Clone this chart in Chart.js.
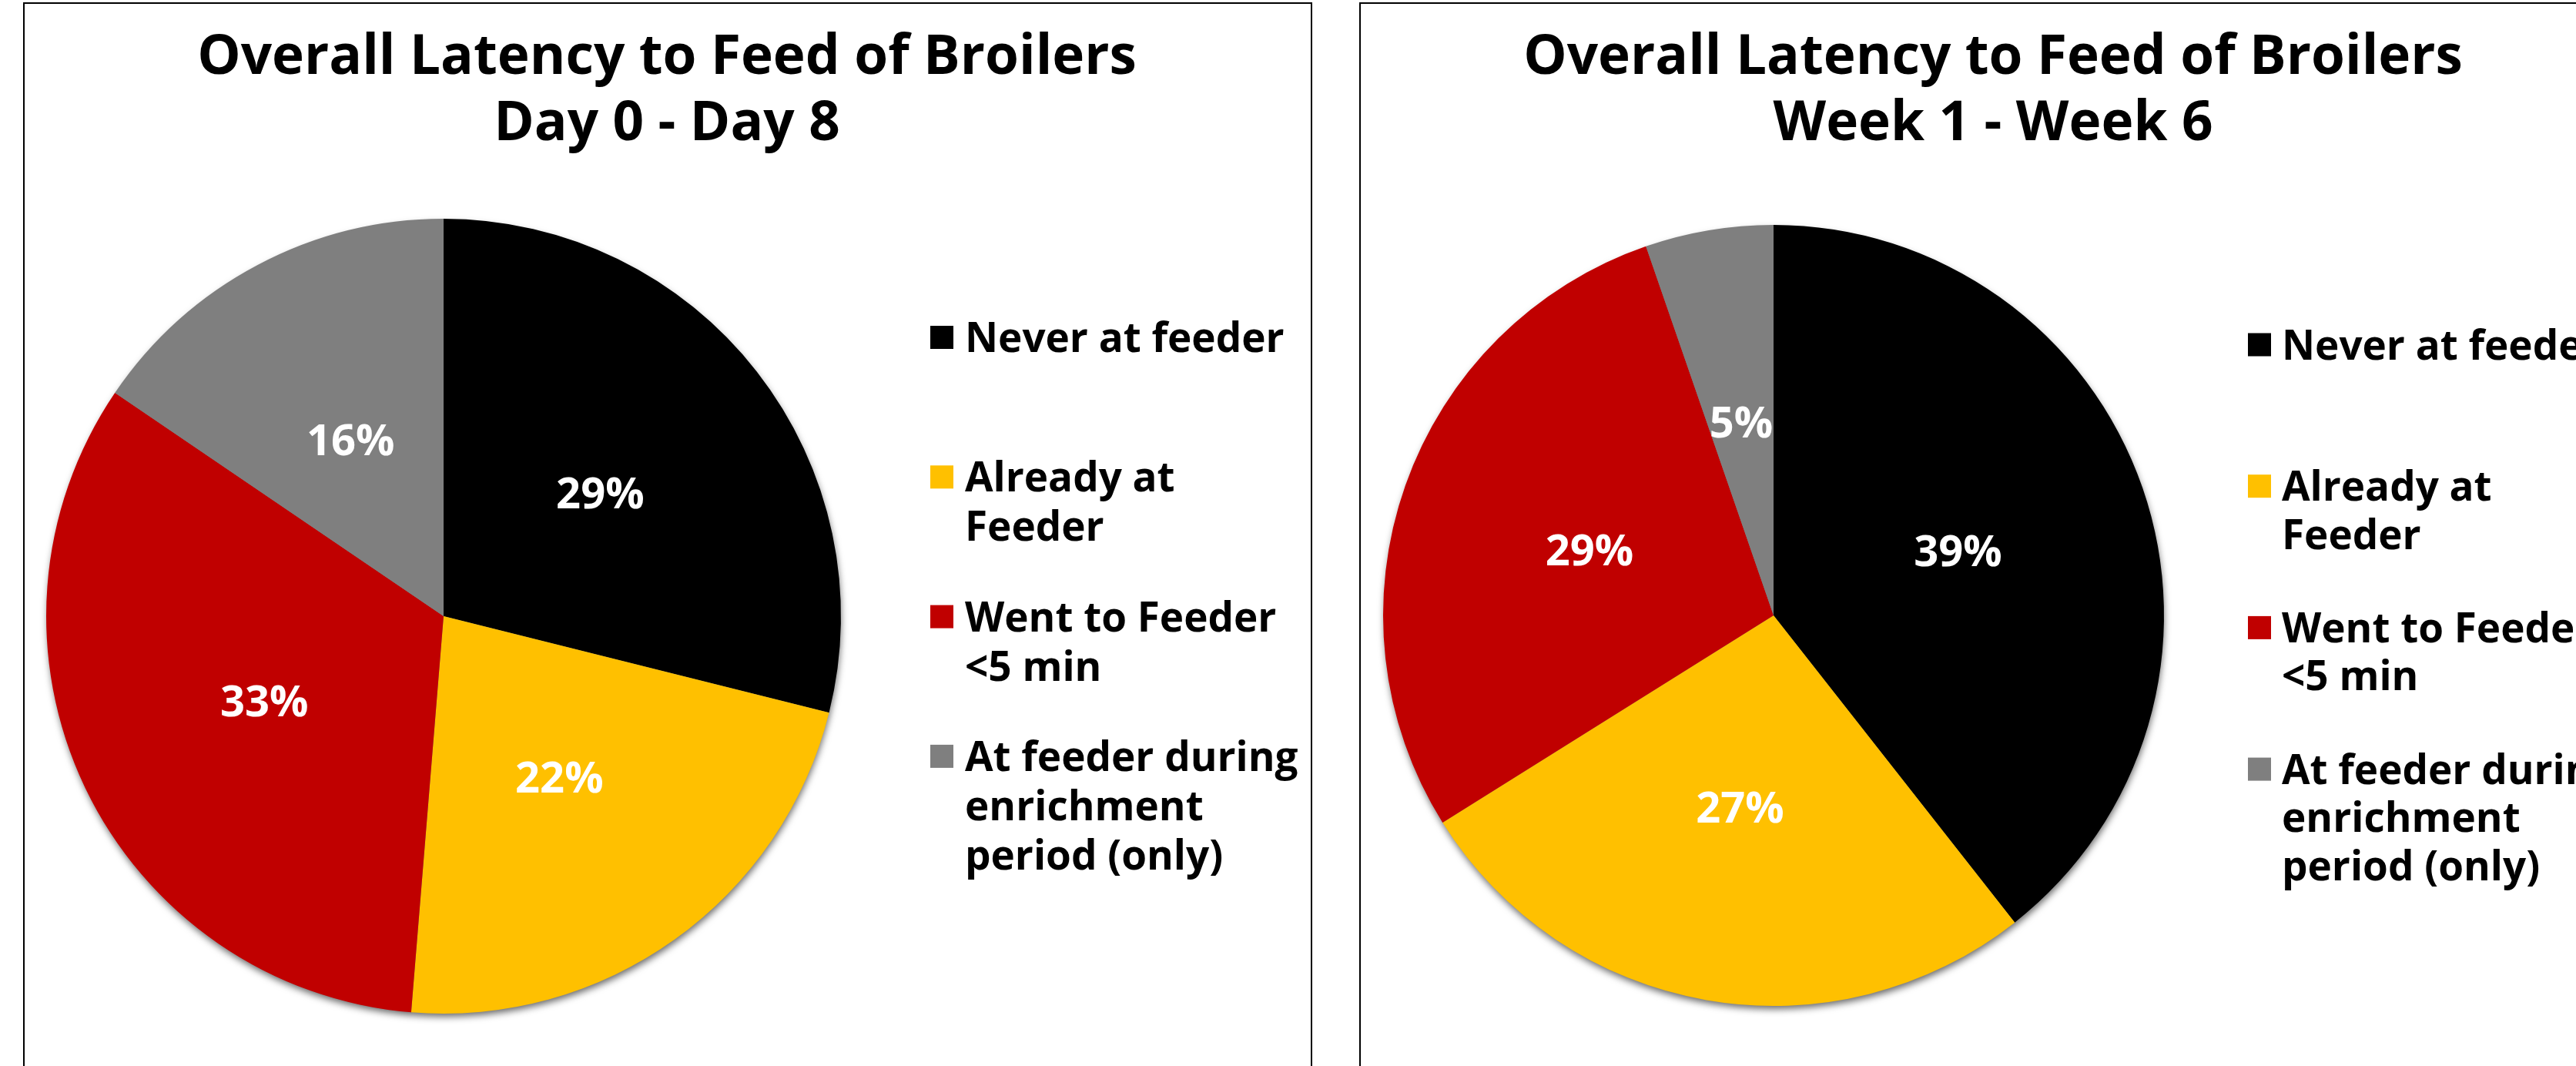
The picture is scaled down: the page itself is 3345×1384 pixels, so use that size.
<!DOCTYPE html>
<html>
<head>
<meta charset="utf-8">
<script src="https://cdn.jsdelivr.net/npm/chart.js@4.4.0/dist/chart.umd.min.js"></script>
<style>
html,body{margin:0;padding:0;background:#fff;width:3345px;height:1384px;overflow:hidden;position:relative;}
.panel{position:absolute;border:2px solid #000;box-sizing:border-box;}
canvas{position:absolute;}
</style>
</head>
<body>
<div class="panel" style="left:30px;top:3px;width:1674px;height:1500px;"></div>
<div class="panel" style="left:1765px;top:3px;width:1700px;height:1500px;"></div>
<canvas id="c1" width="1670" height="1379" style="left:32px;top:5px"></canvas>
<canvas id="c2" width="1577" height="1379" style="left:1768px;top:5px"></canvas>
<script>
// ---- data ----
const categories = [
  ["Never at feeder"],
  ["Already at", "Feeder"],
  ["Went to Feeder", "<5 min"],
  ["At feeder during", "enrichment", "period (only)"]
];
const sliceColors = ["#000000", "#FFC000", "#C00000", "#7F7F7F"];
const titleDay = ["Overall Latency to Feed of Broilers", "Day 0 - Day 8"];
const titleWeek = ["Overall Latency to Feed of Broilers", "Week 1 - Week 6"];
const valuesDay = [28.9, 22.4, 33.2, 15.5];
const valuesWeek = [39.4, 26.7, 28.6, 5.3];

// ---- plugins ----
const pieShadow = {
  id: 'pieShadow',
  beforeDatasetsDraw(chart) {
    const arc = chart.getDatasetMeta(0).data[0];
    if (!arc) return;
    const ctx = chart.ctx;
    ctx.save();
    ctx.shadowColor = 'rgba(0,0,0,0.6)';
    ctx.shadowBlur = 10;
    ctx.shadowOffsetX = 1;
    ctx.shadowOffsetY = 5;
    ctx.fillStyle = '#7F7F7F';
    ctx.beginPath();
    ctx.arc(arc.x, arc.y, arc.outerRadius - 1, 0, Math.PI * 2);
    ctx.fill();
    ctx.restore();
  }
};

const sliceLabels = {
  id: 'sliceLabels',
  afterDatasetsDraw(chart, args, opts) {
    const ctx = chart.ctx;
    const meta = chart.getDatasetMeta(0);
    const vals = chart.data.datasets[0].data;
    ctx.save();
    ctx.font = opts.font;
    ctx.fillStyle = opts.color;
    ctx.textAlign = 'center';
    ctx.textBaseline = 'middle';
    meta.data.forEach((arc, i) => {
      const p = arc.tooltipPosition();
      ctx.fillText(Math.round(vals[i]) + '%', p.x, p.y + opts.dy);
    });
    ctx.restore();
  }
};

const panelTitle = {
  id: 'panelTitle',
  afterDraw(chart, args, opts) {
    const ctx = chart.ctx;
    ctx.save();
    ctx.font = opts.font;
    ctx.fillStyle = '#000';
    ctx.textAlign = 'center';
    ctx.textBaseline = 'alphabetic';
    opts.lines.forEach((t, i) => ctx.fillText(t, opts.x, opts.y + i * opts.lineHeight));
    ctx.restore();
  }
};

const sideLegend = {
  id: 'sideLegend',
  afterDraw(chart, args, opts) {
    const ctx = chart.ctx;
    const labels = chart.data.labels;
    const colors = chart.data.datasets[0].backgroundColor;
    ctx.save();
    ctx.font = opts.font;
    ctx.textAlign = 'left';
    ctx.textBaseline = 'alphabetic';
    labels.forEach((lines, i) => {
      const base = opts.y + i * opts.step;
      ctx.fillStyle = colors[i];
      ctx.fillRect(opts.boxX, base - opts.boxTop, opts.box, opts.box);
      ctx.fillStyle = '#000';
      lines.forEach((t, j) => ctx.fillText(t, opts.textX, base + j * opts.lineHeight));
    });
    ctx.restore();
  }
};

function makePie(id, values, title, pad, radius, titleX, leg) {
  return new Chart(document.getElementById(id), {
    type: 'pie',
    data: {
      labels: categories,
      datasets: [{
        data: values,
        backgroundColor: sliceColors,
        borderWidth: 0,
        radius: radius
      }]
    },
    options: {
      responsive: false,
      animation: false,
      devicePixelRatio: 1,
      events: [],
      layout: { padding: pad },
      plugins: {
        legend: { display: false },
        tooltip: { enabled: false },
        panelTitle: { lines: title, x: titleX, y: 91, lineHeight: 86, font: 'bold 71px "Open Sans"' },
        sliceLabels: { font: 'bold 56px "Open Sans"', color: '#FFFFFF', dy: 3 },
        sideLegend: leg
      }
    },
    plugins: [pieShadow, sliceLabels, panelTitle, sideLegend]
  });
}

makePie('c1', valuesDay, titleDay,
  { left: 28, right: 610, top: 279, bottom: 68 }, 516, 834,
  { font: 'bold 53px "Open Sans"', boxX: 1176, textX: 1221, y: 452, step: 181.3, lineHeight: 64, box: 30, boxTop: 34 });

makePie('c2', valuesWeek, titleWeek,
  { left: 28, right: 535, top: 287, bottom: 78 }, 507, 820,
  { font: 'bold 53px "Open Sans"', boxX: 1151, textX: 1195, y: 461.5, step: 183.7, lineHeight: 62.5, box: 30, boxTop: 34 });
</script>
</body>
</html>
